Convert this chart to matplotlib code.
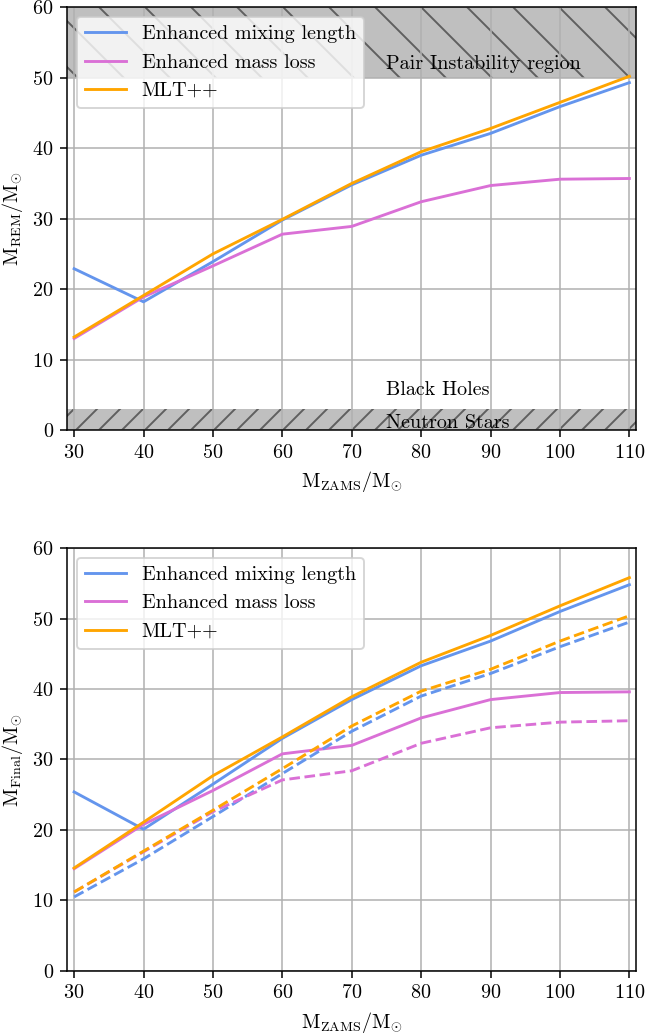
import numpy as np
import matplotlib.pyplot as plt

plt.rcParams['font.family'] = 'serif'
plt.rcParams['font.serif'] = ['cmr10']
plt.rcParams['font.size'] = 10.5
plt.rcParams['mathtext.fontset'] = 'cm'
plt.rcParams['axes.formatter.use_mathtext'] = True
plt.rcParams['axes.unicode_minus'] = False

# initial masses of the models
m_zams = np.array([30, 40, 50, 60, 70, 80, 90, 100, 110])

# remnant masses
rem_mixing = [22.9, 18.2, 23.9, 29.8, 34.8, 39.0, 42.1, 45.9, 49.3]
rem_massloss = [13.0, 18.9, 23.3, 27.8, 28.9, 32.4, 34.7, 35.6, 35.7]
rem_mltpp = [13.2, 19.1, 25.0, 29.9, 35.0, 39.5, 42.8, 46.5, 50.2]

# final masses (solid) and core masses (dashed)
fin_mixing = [25.4, 20.1, 26.5, 33.0, 38.5, 43.3, 46.8, 51.0, 54.8]
fin_massloss = [14.5, 20.8, 25.6, 30.8, 32.0, 35.9, 38.5, 39.5, 39.6]
fin_mltpp = [14.6, 21.1, 27.7, 33.2, 38.9, 43.8, 47.6, 51.8, 55.8]
core_mixing = [10.5, 15.9, 21.9, 28.0, 34.0, 39.0, 42.2, 46.0, 49.5]
core_massloss = [11.2, 16.9, 22.6, 27.1, 28.4, 32.3, 34.5, 35.3, 35.5]
core_mltpp = [11.2, 17.0, 22.8, 28.7, 34.75, 39.7, 42.8, 46.8, 50.4]

labels = ['Enhanced mixing length', 'Enhanced mass loss', 'MLT++']
colors = ['cornflowerblue', 'orchid', 'orange']

dpi = 138
fig, (ax1, ax2) = plt.subplots(2, 1, figsize=(646 / dpi, 1034 / dpi), dpi=dpi)
fig.subplots_adjust(left=0.104, right=0.985, top=0.993, bottom=0.061, hspace=0.279)

# remnant masses with the forbidden regions
for y, lab, c in zip([rem_mixing, rem_massloss, rem_mltpp], labels, colors):
    ax1.plot(m_zams, y, color=c, label=lab)
ax1.axhspan(50, 60, facecolor='gray', alpha=0.5, hatch='\\', edgecolor='black', linewidth=0)
ax1.axhspan(0, 3, facecolor='gray', alpha=0.5, hatch='//', edgecolor='black', linewidth=0)
ax1.text(75, 51.2, 'Pair Instability region')
ax1.text(75, 5, 'Black Holes')
ax1.text(75, 0.3, 'Neutron Stars')
ax1.set_ylabel(r'$\mathrm{M_{REM}/M_{\odot}}$')
ax1.set_xlabel(r'$\mathrm{M_{ZAMS}/M_{\odot}}$')
ax1.legend(loc='upper left')

# final masses
for y, lab, c in zip([fin_mixing, fin_massloss, fin_mltpp], labels, colors):
    ax2.plot(m_zams, y, color=c, label=lab)
for y, c in zip([core_mixing, core_massloss, core_mltpp], colors):
    ax2.plot(m_zams, y, color=c, linestyle='--')
ax2.set_ylabel(r'$\mathrm{M_{Final}/M_{\odot}}$')
ax2.set_xlabel(r'$\mathrm{M_{ZAMS}/M_{\odot}}$')
ax2.legend(loc='upper left')

for ax in (ax1, ax2):
    ax.set_xlim(29, 111)
    ax.set_ylim(0, 60)
    ax.set_xticks(np.arange(30, 111, 10))
    ax.set_yticks(np.arange(0, 61, 10))
    ax.grid(True)

fig.savefig('out.png', dpi=dpi)
